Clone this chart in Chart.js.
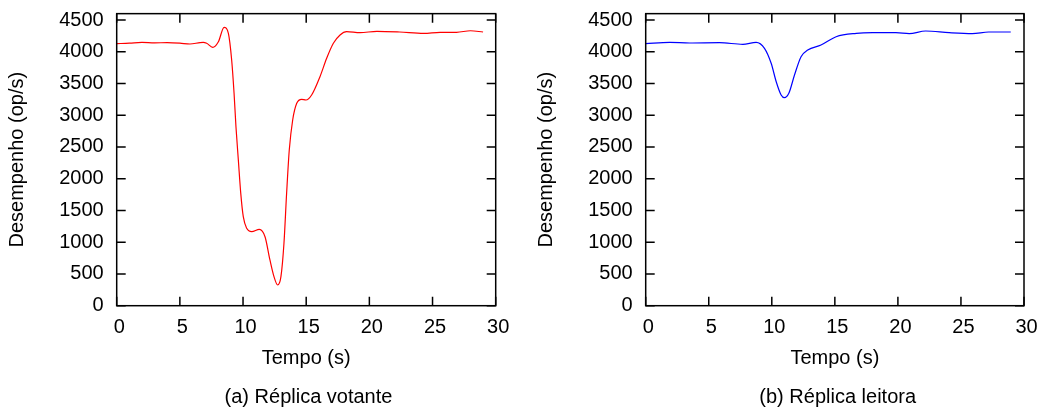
<!DOCTYPE html>
<html>
<head>
<meta charset="utf-8">
<script src="https://cdn.jsdelivr.net/npm/chart.js@4.4.1/dist/chart.umd.min.js"></script>
<style>
  html, body { margin: 0; padding: 0; background: #fff; overflow: hidden; }
  body { width: 1041px; height: 412px; position: relative; font-family: 'Liberation Sans', Arial, Helvetica, sans-serif; }
  .panel { position: absolute; top: 0; height: 412px; }
  .caption { position: absolute; top: 384px; width: 260px; text-align: center; font-size: 20px; line-height: 24px; color: #000; white-space: nowrap; }
</style>
</head>
<body>
<div class="panel" id="pa" style="left:0px;width:520px;">
  <canvas id="ca" width="520" height="412"></canvas>
  <div class="caption" style="left:178.5px;">(a) Réplica votante</div>
</div>
<div class="panel" id="pb" style="left:529.3px;width:511.7px;">
  <canvas id="cb" width="511.7" height="412"></canvas>
  <div class="caption" style="left:178.4px;">(b) Réplica leitora</div>
</div>
<script>
// ---- data ----
const xTitle = 'Tempo (s)';
const yTitle = 'Desempenho (op/s)';
const xTicks = [0, 5, 10, 15, 20, 25, 30];
const yTicks = [0, 500, 1000, 1500, 2000, 2500, 3000, 3500, 4000, 4500];
const xMax = 30;
const yMax = 4600;

// (a) Réplica votante (red)
const timesVotante = [0, 1.0, 2.0, 3.0, 4.0, 5.0, 5.8, 6.6, 6.85, 7.12, 7.6, 8.05, 8.5, 8.84, 9.10, 9.29, 9.44, 9.63, 9.82, 10.02, 10.29, 10.69, 11.29, 11.74, 12.13, 12.45, 12.74, 13.0, 13.24, 13.45, 13.66, 13.93, 14.25, 14.64, 14.98, 15.43, 16.09, 16.62, 17.15, 17.68, 18.2, 19.26, 20.6, 22.4, 24.3, 25.6, 26.9, 28.0, 29.0];
const valuesVotante = [4127, 4135, 4148, 4140, 4143, 4135, 4122, 4145, 4148, 4133, 4070, 4158, 4385, 4290, 3870, 3345, 2819, 2291, 1770, 1402, 1219, 1166, 1203, 1087, 720, 457, 326, 457, 983, 1770, 2452, 2925, 3188, 3251, 3240, 3319, 3607, 3897, 4133, 4264, 4316, 4300, 4322, 4311, 4290, 4306, 4306, 4331, 4311];

// (b) Réplica leitora (blue)
const timesLeitora = [0, 1.9, 3.48, 5.86, 7.7, 8.76, 9.42, 9.95, 10.35, 10.74, 11.0, 11.35, 11.8, 12.32, 12.85, 13.9, 15.1, 16.7, 18.0, 19.84, 20.9, 22.2, 24.06, 25.9, 27.2, 28.95];
const valuesLeitora = [4127, 4148, 4138, 4143, 4117, 4148, 4054, 3818, 3528, 3319, 3276, 3345, 3634, 3922, 4027, 4106, 4237, 4290, 4300, 4300, 4285, 4327, 4300, 4285, 4311, 4311];

Chart.defaults.font.family = "'Liberation Sans', Arial, Helvetica, sans-serif";
Chart.defaults.font.size = 20;
Chart.defaults.color = '#000';

const framePlugin = {
  id: 'frame',
  afterDraw(chart) {
    const { ctx, chartArea: a, scales } = chart;
    const x = scales.x, y = scales.y;
    const L = 9;
    ctx.save();
    ctx.strokeStyle = '#000';
    ctx.lineWidth = 1.5;
    ctx.beginPath();
    x.ticks.forEach(t => {
      const px = x.getPixelForValue(t.value);
      ctx.moveTo(px, a.bottom); ctx.lineTo(px, a.bottom - L);
      ctx.moveTo(px, a.top); ctx.lineTo(px, a.top + L);
    });
    y.ticks.forEach(t => {
      const py = y.getPixelForValue(t.value);
      ctx.moveTo(a.left, py); ctx.lineTo(a.left + L, py);
      ctx.moveTo(a.right, py); ctx.lineTo(a.right - L, py);
    });
    ctx.stroke();
    ctx.strokeRect(a.left, a.top, a.right - a.left, a.bottom - a.top);
    ctx.restore();
  }
};

function zeroPad(s) { s.paddingTop = 0; s.paddingBottom = 0; s.paddingLeft = 0; s.paddingRight = 0; }

function makeChart(id, times, values, color, rightPad) {
  const pts = times.map((t, i) => ({ x: t, y: values[i] }));
  return new Chart(document.getElementById(id), {
    type: 'line',
    data: {
      datasets: [{
        data: pts,
        borderColor: color,
        borderWidth: 1.2,
        pointRadius: 0,
        fill: false,
        cubicInterpolationMode: 'monotone'
      }]
    },
    options: {
      responsive: false,
      animation: false,
      devicePixelRatio: 1,
      layout: { padding: { top: 13.65, right: rightPad, left: 0, bottom: 0 } },
      plugins: { legend: { display: false }, tooltip: { enabled: false } },
      scales: {
        x: {
          type: 'linear',
          min: 0, max: xMax,
          grid: { display: false, drawTicks: false },
          border: { display: false },
          afterBuildTicks(s) { s.ticks = xTicks.map(v => ({ value: v })); },
          ticks: { autoSkip: false, padding: 9.5, labelOffset: 2.5, maxRotation: 0, color: '#000', font: { size: 20 },
                   callback: v => String(v) },
          title: { display: true, text: xTitle, color: '#000', font: { size: 20 }, padding: { top: 0, bottom: 41.5 } },
          afterFit(s) { s.height = 106.3; zeroPad(s); }
        },
        y: {
          type: 'linear',
          min: 0, max: yMax,
          grid: { display: false, drawTicks: false },
          border: { display: false },
          afterBuildTicks(s) { s.ticks = yTicks.map(v => ({ value: v })); },
          ticks: { autoSkip: false, padding: 13, color: '#000', font: { size: 20 },
                   callback: v => String(v) },
          title: { display: true, text: yTitle, color: '#000', font: { size: 20 }, padding: { top: 5.5, bottom: 0 } },
          afterFit(s) { s.width = 116.7; zeroPad(s); }
        }
      }
    },
    plugins: [framePlugin]
  });
}

makeChart('ca', timesVotante, valuesVotante, '#ff0000', 520 - 495.7);
makeChart('cb', timesLeitora, valuesLeitora, '#0000ff', 511.7 - 495.7);
</script>
</body>
</html>
